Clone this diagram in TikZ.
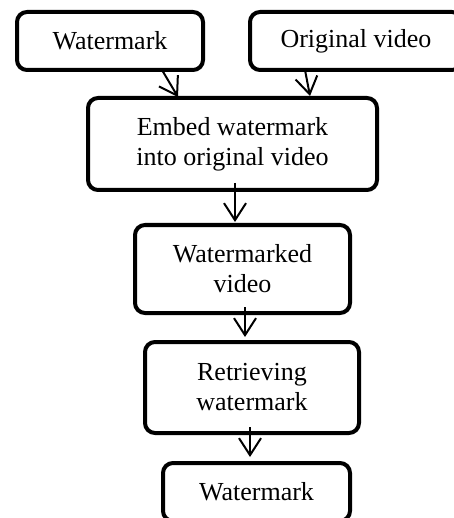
\documentclass[tikz,border=0pt]{standalone}
\usepackage{fontspec}
\setmainfont{Liberation Serif}
\usetikzlibrary{arrows.meta,positioning}
\tikzstyle{block} = [draw, line width=4pt, rounded corners=10pt, align=center, inner sep=0pt, outer sep=0pt, font=\fontsize{26}{30}\selectfont]
\tikzstyle{flow} = [-{Straight Barb[length=17pt,width=22pt]}, line width=2pt]
\begin{document}
\begin{tikzpicture}[x=1pt,y=-1pt]
    \useasboundingbox (0,0) rectangle (453,518);
    \node[block, minimum width=186pt, minimum height=58pt] (wm) at (110,41) {Watermark};
    \node[block, minimum width=212pt, minimum height=58pt] (orig) at (356,41) {Original video};
    \node[block, minimum width=289pt, minimum height=92pt] (embed) at (232.5,144) {Embed watermark\\into original video};
    \node[block, minimum width=215pt, minimum height=88pt] (wmv) at (242.5,269) {Watermarked\\video};
    \node[block, minimum width=214pt, minimum height=91pt] (retr) at (252,387.5) {Retrieving\\watermark};
    \node[block, minimum width=187pt, minimum height=58pt] (out) at (256.5,492) {Watermark};
    \draw[flow] ([xshift=52pt]wm.south) -- ([xshift=-54.5pt,yshift=1pt]embed.north);
    \draw[flow] ([xshift=-51pt]orig.south) -- ([xshift=77.5pt,yshift=2pt]embed.north);
    \draw[flow] ([xshift=2.5pt,yshift=7pt]embed.south) -- ([xshift=-7.5pt,yshift=3pt]wmv.north);
    \draw[flow] ([xshift=2.5pt,yshift=6pt]wmv.south) -- ([xshift=-7pt,yshift=5pt]retr.north);
    \draw[flow] ([xshift=-2pt,yshift=6pt]retr.south) -- ([xshift=-6.5pt,yshift=6pt]out.north);
\end{tikzpicture}
\end{document}
